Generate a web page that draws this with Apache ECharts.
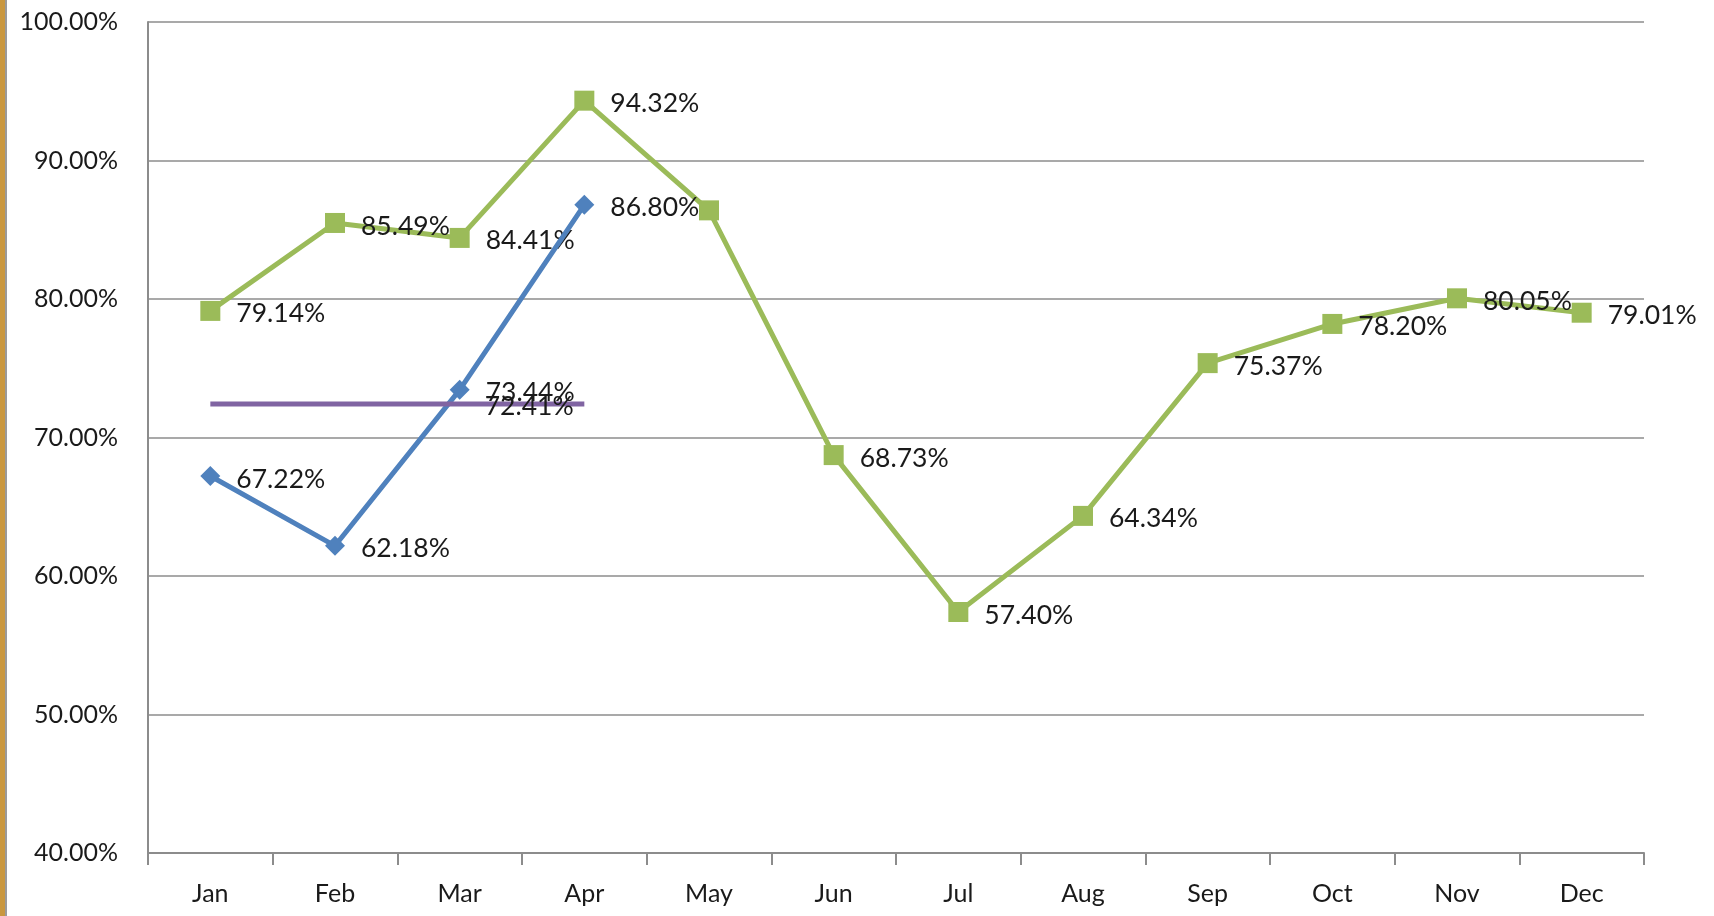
<!DOCTYPE html>
<html>
<head>
<meta charset="utf-8">
<script src="https://cdn.jsdelivr.net/npm/echarts@6/dist/echarts.min.js"></script>
<style>
  html, body { margin: 0; padding: 0; background: #fff; }
  #frame { position: absolute; left: 0; top: 0; width: 1714px; height: 916px; box-sizing: border-box;
           border-left: 5px solid #c9973f; }
  #edge { position: absolute; left: 5px; top: 0; width: 2px; height: 916px; background: #9a9a9a; }
  #main { position: absolute; left: 0; top: 0; width: 1714px; height: 916px; }
</style>
</head>
<body>
<div id="frame"></div>
<div id="edge"></div>
<div id="main"></div>
<script>
// months on the x axis
var months = ['Jan', 'Feb', 'Mar', 'Apr', 'May', 'Jun', 'Jul', 'Aug', 'Sep', 'Oct', 'Nov', 'Dec'];
// green line (full year)
var greenVals = [79.14, 85.49, 84.41, 94.32, 86.4, 68.73, 57.40, 64.34, 75.37, 78.20, 80.05, 79.01];
// blue line (Jan - Apr)
var blueVals = [67.22, 62.18, 73.44, 86.80, null, null, null, null, null, null, null, null];
// purple average line (Jan - Apr)
var avgVals = [72.41, 72.41, 72.41, 72.41, null, null, null, null, null, null, null, null];
// which points carry no label / the only labelled average point
var greenNoLabel = [4];
var avgLabelAt = [2];

var chart = echarts.init(document.getElementById('main'));

var fontFam = 'Lato, "Open Sans", sans-serif';
var pct = function (p) { return p.value == null ? '' : Number(p.value).toFixed(2) + '%'; };

var greenData = greenVals.map(function (v, i) {
  return greenNoLabel.indexOf(i) >= 0 ? { value: v, label: { show: false } } : v;
});
var avgData = avgVals.map(function (v, i) {
  return avgLabelAt.indexOf(i) >= 0 ? { value: v, label: { show: true } } : v;
});

var labelStyle = {
  show: true,
  position: 'right',
  distance: 16,
  offset: [0, 3],
  color: '#1a1a1a',
  fontSize: 26.5,
  fontFamily: fontFam,
  formatter: pct
};

chart.setOption({
  animation: false,
  backgroundColor: 'transparent',
  grid: { left: 148, top: 22, right: 70, bottom: 63, containLabel: false },
  xAxis: {
    type: 'category',
    data: months,
    boundaryGap: true,
    axisLine: { show: true, lineStyle: { color: '#8c8c8c', width: 2 } },
    axisTick: { show: true, length: 12, alignWithLabel: false, lineStyle: { color: '#8c8c8c', width: 2 } },
    axisLabel: { margin: 28, color: '#1a1a1a', fontSize: 25, fontFamily: fontFam },
    splitLine: { show: false }
  },
  yAxis: {
    type: 'value',
    min: 40,
    max: 100,
    interval: 10,
    axisLine: { show: true, lineStyle: { color: '#8c8c8c', width: 2 } },
    axisTick: { show: false },
    axisLabel: {
      margin: 30, color: '#1a1a1a', fontSize: 25, fontFamily: fontFam,
      formatter: function (v) { return v.toFixed(2) + '%'; }
    },
    splitLine: { show: true, lineStyle: { color: '#8c8c8c', width: 1.5 } }
  },
  series: [
    {
      name: 'Green',
      type: 'line',
      data: greenData,
      symbol: 'rect',
      symbolSize: 20,
      itemStyle: { color: '#9bbb59' },
      lineStyle: { color: '#9bbb59', width: 5 },
      label: labelStyle,
      z: 2
    },
    {
      name: 'Blue',
      type: 'line',
      data: blueVals,
      symbol: 'diamond',
      symbolSize: 20,
      itemStyle: { color: '#4f81bd' },
      lineStyle: { color: '#4f81bd', width: 5 },
      label: labelStyle,
      z: 3
    },
    {
      name: 'Average',
      type: 'line',
      data: avgData,
      showSymbol: true,
      symbol: 'circle',
      symbolSize: 0,
      itemStyle: { color: '#8064a2' },
      lineStyle: { color: '#8064a2', width: 5 },
      label: Object.assign({}, labelStyle, { show: false, distance: 25, offset: [0, 2] }),
      z: 3
    }
  ]
});
</script>
</body>
</html>
